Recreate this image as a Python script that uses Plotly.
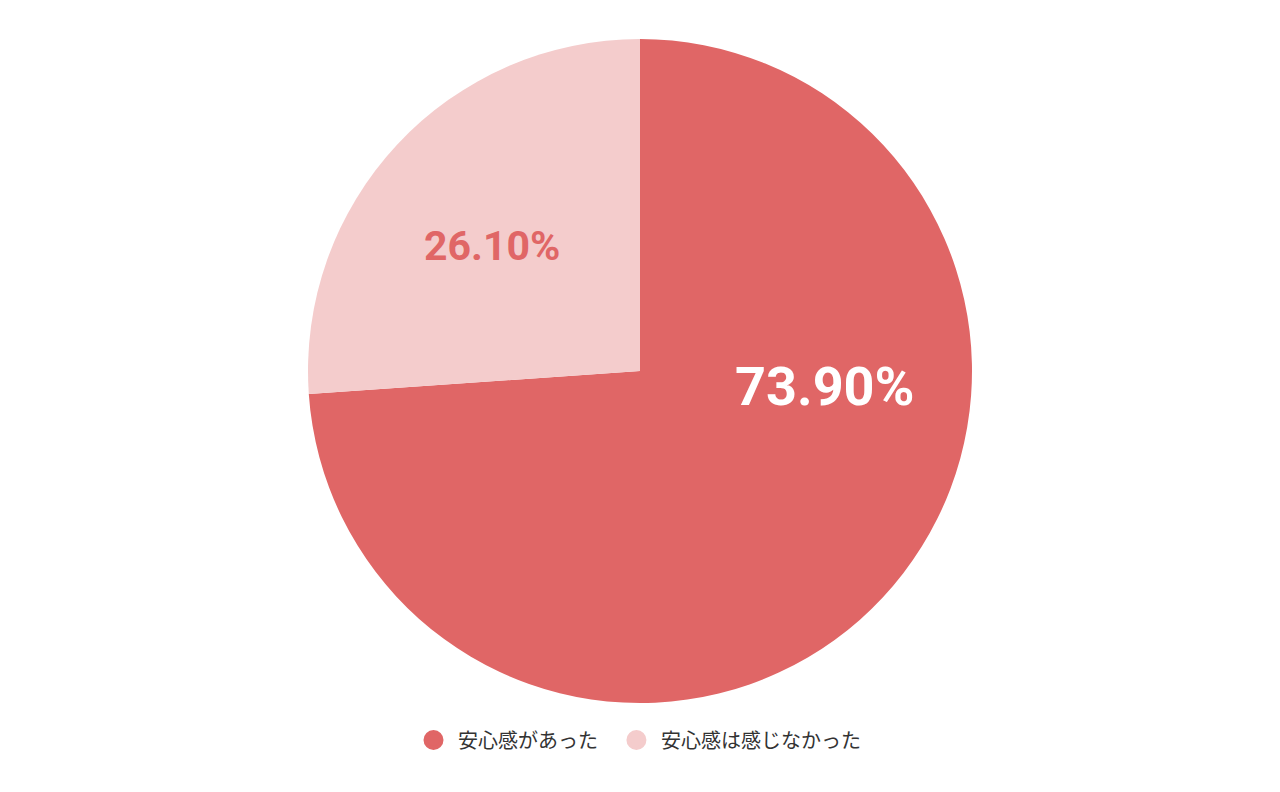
import plotly.graph_objects as go

labels = ["安心感があった", "安心感は感じなかった"]
values = [73.9, 26.1]
colors = ["#E06666", "#F4CCCC"]
text_colors = ["#FFFFFF", "#E06666"]
text_sizes = [54, 41]
# label anchor positions (paper fraction) for the percentage texts
label_x = [(825 - 8) / 1280, (492 - 8) / 1280]
label_y = [(792 - 386 + 8) / 792, (792 - 246 + 8) / 792]

W, H = 1280, 792
OFF = 8  # browser body margin
cx, cy, r = 640 - OFF, 371 - OFF, 332

fig = go.Figure()
fig.add_trace(go.Pie(
    labels=labels,
    values=values,
    sort=False,
    direction="clockwise",
    rotation=0,
    marker=dict(colors=colors, line=dict(width=0)),
    textinfo="none",
    showlegend=False,
    hoverinfo="label+percent",
    domain=dict(x=[(cx - r) / W, (cx + r) / W], y=[(H - cy - r) / H, (H - cy + r) / H]),
))

pads = ["\u00a0\u00a0\u00a0", ""]
for lab, col, pad in zip(labels, colors, pads):
    fig.add_trace(go.Scatter(
        x=[None], y=[None], mode="markers", name="\u00a0" + lab + pad,
        marker=dict(color=col, size=16, symbol="circle", line=dict(color=col, width=4)),
        showlegend=True,
    ))

annotations = []
for v, x, y, c, s in zip(values, label_x, label_y, text_colors, text_sizes):
    annotations.append(dict(
        text="%.2f%%" % v, x=x, y=y, xref="paper", yref="paper",
        xanchor="center", yanchor="middle", showarrow=False,
        font=dict(family="Roboto", size=s, color=c, weight="bold"),
    ))

fig.update_layout(
    width=W, height=H,
    margin=dict(l=0, r=0, t=0, b=0),
    paper_bgcolor="white", plot_bgcolor="white",
    xaxis=dict(visible=False), yaxis=dict(visible=False),
    annotations=annotations,
    legend=dict(orientation="h", x=(640 - OFF) / W, xanchor="center", y=(H - 740 + OFF) / H, yanchor="middle",
                font=dict(family="Noto Sans CJK JP", size=20, color="#333333"),
                itemsizing="trace", itemwidth=30),
)

fig.write_html("out.html")
